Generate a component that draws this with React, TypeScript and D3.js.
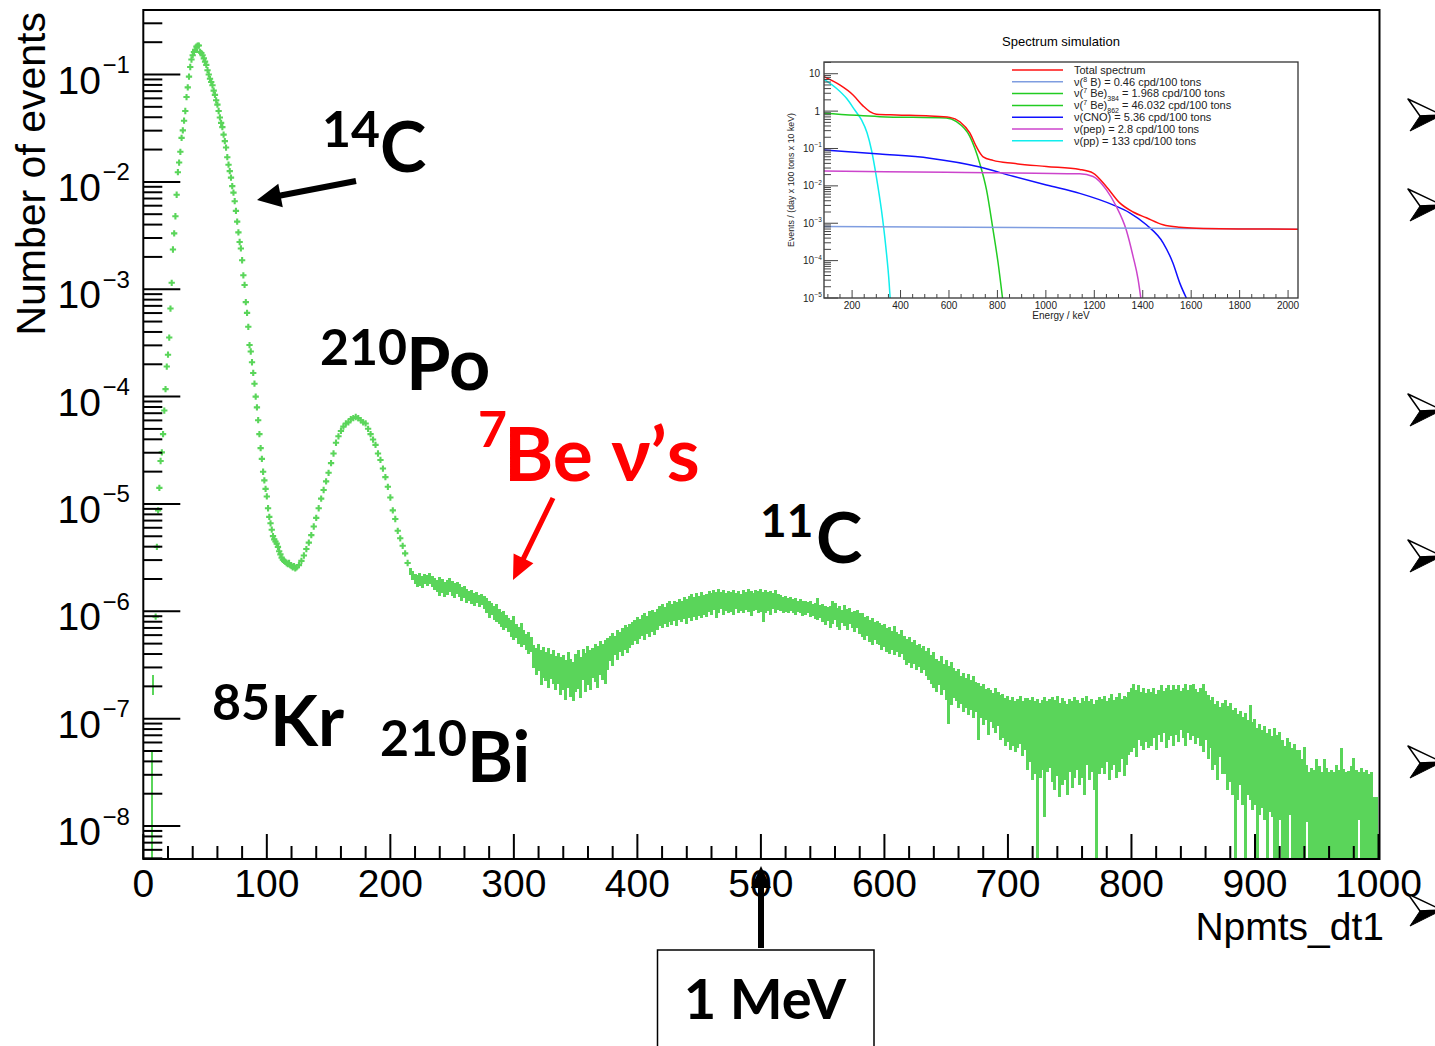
import * as d3 from "d3";

const GREEN = "#5ad55a";
const AXIS_FONT = "'Liberation Sans', Arial, Helvetica, sans-serif";
const SLIDE_FONT = "Lato, Carlito, 'Open Sans', sans-serif";

// ---- main histogram (Npmts_dt1 bins), values stored as log10(events) ----
// 14C peak + rising/falling flanks, one marker per bin starting at bin 10
const c14Start = 10;
const c14Log = [
  -6.05, -5.40, -5.06, -4.85, -4.60, -4.52, -4.35, -4.13, -3.93, -3.72,
  -3.61, -3.45, -3.18, -2.94, -2.63, -2.48, -2.32, -2.12, -1.91, -1.82,
  -1.72, -1.59, -1.52, -1.43, -1.34, -1.21, -1.12, -1.02, -0.93, -0.86,
  -0.82, -0.79, -0.77, -0.74, -0.73, -0.73, -0.79, -0.80, -0.82, -0.85,
  -0.88, -0.91, -0.96, -1.00, -1.04, -1.07, -1.10, -1.15, -1.19, -1.24,
  -1.28, -1.34, -1.40, -1.45, -1.49, -1.56, -1.62, -1.68, -1.77, -1.84,
  -1.90, -1.96, -2.04, -2.10, -2.18, -2.27, -2.37, -2.47, -2.56, -2.62,
  -2.73, -2.87, -2.96, -3.12, -3.22, -3.35, -3.52, -3.58, -3.68, -3.78,
  -3.88, -4.00, -4.10, -4.22, -4.35, -4.48, -4.58, -4.70, -4.78, -4.86,
  -4.93, -5.04, -5.12, -5.18, -5.24, -5.30, -5.33, -5.35, -5.37, -5.40,
  -5.44, -5.47, -5.50, -5.52, -5.53, -5.54, -5.55, -5.56, -5.55, -5.57,
  -5.58, -5.59, -5.58, -5.60, -5.59,
];

// 210Po peak, every second bin from 126
const poStart = 126;
const poStep = 2;
const poLog = [
  -5.57, -5.53, -5.48, -5.42, -5.36, -5.29, -5.21, -5.13, -5.04, -4.95,
  -4.87, -4.79, -4.71, -4.62, -4.53, -4.43, -4.37, -4.32, -4.28, -4.25,
  -4.24, -4.21, -4.20, -4.19, -4.20, -4.22, -4.24, -4.25, -4.30, -4.35,
  -4.40, -4.45, -4.53, -4.59, -4.67, -4.75, -4.84, -4.94, -5.06, -5.14,
  -5.25, -5.32, -5.39, -5.46, -5.55,
];

// threshold bins with only error bars visible
const threshBins = [7, 8];
const threshHiLog = [-7.31, -6.59];
const threshLoLog = [-8.31, -6.78];

// noisy region: error-bar extent per bin, every second bin from 216
const bandStart = 216;
const bandStep = 2;
const bandHiLog = [
  -5.60, -5.62, -5.65, -5.66, -5.64, -5.67, -5.65, -5.66, -5.64, -5.67,
  -5.69, -5.71, -5.68, -5.70, -5.73, -5.71, -5.69, -5.72, -5.74, -5.73,
  -5.75, -5.77, -5.76, -5.79, -5.81, -5.80, -5.83, -5.82, -5.85, -5.84,
  -5.86, -5.88, -5.90, -5.92, -5.95, -5.93, -5.98, -6.01, -6.00, -6.03,
  -6.06, -6.08, -6.04, -6.12, -6.15, -6.11, -6.17, -6.21, -6.19, -6.24,
  -6.31, -6.34, -6.30, -6.36, -6.33, -6.38, -6.34, -6.40, -6.36, -6.42,
  -6.39, -6.43, -6.41, -6.45, -6.38, -6.44, -6.47, -6.40, -6.36, -6.43,
  -6.35, -6.39, -6.32, -6.36, -6.34, -6.30, -6.32, -6.28, -6.30, -6.27,
  -6.25, -6.23, -6.20, -6.23, -6.17, -6.19, -6.16, -6.13, -6.15, -6.12,
  -6.10, -6.08, -6.05, -6.07, -6.03, -6.02, -6.04, -6.00, -5.99, -6.01,
  -5.98, -5.95, -5.93, -5.96, -5.92, -5.90, -5.93, -5.90, -5.91, -5.89,
  -5.90, -5.87, -5.89, -5.86, -5.84, -5.87, -5.83, -5.86, -5.82, -5.85,
  -5.84, -5.81, -5.83, -5.80, -5.82, -5.79, -5.82, -5.80, -5.83, -5.81,
  -5.82, -5.80, -5.83, -5.81, -5.84, -5.80, -5.82, -5.79, -5.81, -5.83,
  -5.80, -5.81, -5.79, -5.82, -5.80, -5.82, -5.81, -5.83, -5.80, -5.84,
  -5.85, -5.87, -5.86, -5.88, -5.87, -5.89, -5.88, -5.90, -5.89, -5.90,
  -5.90, -5.91, -5.90, -5.93, -5.92, -5.88, -5.94, -5.93, -5.95, -5.96,
  -5.95, -5.90, -5.92, -5.97, -5.95, -5.99, -5.94, -5.98, -5.97, -6.01,
  -6.00, -5.99, -6.02, -6.02, -6.05, -6.04, -6.08, -6.06, -6.10, -6.09,
  -6.11, -6.13, -6.12, -6.16, -6.15, -6.18, -6.14, -6.19, -6.21, -6.17,
  -6.23, -6.26, -6.24, -6.29, -6.27, -6.31, -6.30, -6.34, -6.32, -6.37,
  -6.34, -6.41, -6.38, -6.44, -6.46, -6.42, -6.49, -6.45, -6.51, -6.47,
  -6.53, -6.56, -6.54, -6.60, -6.57, -6.62, -6.58, -6.64, -6.60, -6.66,
  -6.67, -6.70, -6.68, -6.72, -6.71, -6.73, -6.76, -6.71, -6.75, -6.78,
  -6.77, -6.81, -6.79, -6.83, -6.80, -6.84, -6.82, -6.79, -6.84, -6.81,
  -6.81, -6.83, -6.80, -6.84, -6.82, -6.85, -6.83, -6.80, -6.84, -6.82,
  -6.80, -6.83, -6.79, -6.85, -6.81, -6.84, -6.86, -6.82, -6.84, -6.80,
  -6.83, -6.85, -6.81, -6.84, -6.79, -6.84, -6.82, -6.86, -6.83, -6.80,
  -6.82, -6.79, -6.84, -6.81, -6.77, -6.83, -6.80, -6.76, -6.82, -6.79,
  -6.80, -6.75, -6.71, -6.68, -6.73, -6.69, -6.75, -6.71, -6.76, -6.72,
  -6.75, -6.71, -6.77, -6.73, -6.69, -6.74, -6.71, -6.69, -6.73, -6.69,
  -6.72, -6.69, -6.74, -6.71, -6.68, -6.73, -6.69, -6.68, -6.72, -6.75,
  -6.71, -6.68, -6.74, -6.78, -6.83, -6.80, -6.86, -6.84, -6.89, -6.85,
  -6.83, -6.88, -6.85, -6.92, -6.90, -6.96, -6.93, -6.98, -6.95, -7.01,
  -6.87, -7.03, -7.00, -7.09, -7.05, -7.11, -7.07, -7.13, -7.10, -7.16,
  -7.09, -7.15, -7.12, -7.20, -7.25, -7.18, -7.22, -7.27, -7.24, -7.29,
  -7.29, -7.38, -7.26, -7.43, -7.50, -7.46, -7.48, -7.38, -7.44, -7.50,
  -7.38, -7.46, -7.50, -7.48, -7.50, -7.43, -7.48, -7.27, -7.47, -7.50,
  -7.49, -7.44, -7.37, -7.48, -7.50, -7.46, -7.50, -7.48, -7.52, -7.50,
  -7.73, -7.73,
];
const bandLoLog = [
  -5.66, -5.71, -5.75, -5.77, -5.76, -5.78, -5.75, -5.76, -5.75, -5.77,
  -5.80, -5.82, -5.86, -5.83, -5.87, -5.85, -5.82, -5.86, -5.88, -5.84,
  -5.87, -5.90, -5.88, -5.92, -5.90, -5.93, -5.95, -5.92, -5.96, -5.94,
  -5.98, -6.02, -6.06, -6.03, -6.08, -6.10, -6.12, -6.15, -6.17, -6.16,
  -6.19, -6.24, -6.27, -6.25, -6.30, -6.33, -6.31, -6.36, -6.40, -6.38,
  -6.53, -6.59, -6.56, -6.69, -6.62, -6.65, -6.71, -6.63, -6.68, -6.73,
  -6.68, -6.78, -6.73, -6.83, -6.71, -6.80, -6.84, -6.75, -6.72, -6.81,
  -6.64, -6.75, -6.69, -6.73, -6.62, -6.66, -6.71, -6.59, -6.64, -6.68,
  -6.55, -6.46, -6.51, -6.41, -6.45, -6.38, -6.42, -6.36, -6.39, -6.34,
  -6.31, -6.28, -6.30, -6.26, -6.23, -6.27, -6.21, -6.24, -6.19, -6.22,
  -6.17, -6.14, -6.16, -6.12, -6.15, -6.10, -6.13, -6.09, -6.14, -6.08,
  -6.10, -6.07, -6.12, -6.06, -6.09, -6.05, -6.08, -6.04, -6.06, -6.03,
  -6.05, -6.01, -6.03, -5.99, -6.06, -6.02, -5.98, -6.03, -6.00, -6.02,
  -6.01, -6.03, -5.98, -6.02, -6.00, -6.02, -5.99, -6.01, -6.04, -6.00,
  -5.99, -6.02, -6.01, -6.10, -6.02, -6.00, -6.03, -5.98, -6.02, -5.99,
  -6.00, -6.02, -6.01, -6.02, -6.00, -6.02, -6.03, -6.01, -6.02, -6.04,
  -6.03, -6.02, -6.05, -6.04, -6.07, -6.08, -6.06, -6.10, -6.13, -6.09,
  -6.16, -6.12, -6.08, -6.15, -6.17, -6.11, -6.14, -6.17, -6.12, -6.16,
  -6.19, -6.16, -6.21, -6.24, -6.27, -6.23, -6.29, -6.31, -6.27, -6.30,
  -6.31, -6.36, -6.33, -6.38, -6.40, -6.36, -6.41, -6.38, -6.43, -6.40,
  -6.45, -6.50, -6.48, -6.53, -6.49, -6.55, -6.52, -6.57, -6.55, -6.60,
  -6.64, -6.68, -6.71, -6.75, -6.69, -6.78, -6.73, -6.83, -7.05, -6.87,
  -6.81, -6.84, -6.90, -6.86, -6.94, -6.90, -6.97, -6.92, -6.99, -6.94,
  -7.20, -6.99, -7.06, -7.01, -7.15, -7.03, -7.09, -7.13, -7.07, -7.20,
  -7.18, -7.25, -7.22, -7.29, -7.25, -7.31, -7.27, -7.24, -7.35, -7.29,
  -7.48, -7.40, -7.57, -7.52, -8.31, -7.55, -7.48, -7.92, -7.50, -7.46,
  -7.59, -7.66, -7.53, -7.73, -7.62, -7.57, -7.71, -7.50, -7.65, -7.55,
  -7.48, -7.62, -7.55, -7.71, -7.43, -7.57, -7.50, -7.66, -8.31, -7.52,
  -7.46, -7.52, -7.40, -7.57, -7.48, -7.43, -7.55, -7.50, -7.38, -7.53,
  -7.43, -7.34, -7.31, -7.27, -7.36, -7.20, -7.25, -7.29, -7.22, -7.27,
  -7.25, -7.18, -7.29, -7.15, -7.22, -7.13, -7.27, -7.20, -7.16, -7.25,
  -7.15, -7.22, -7.11, -7.18, -7.25, -7.13, -7.20, -7.16, -7.24, -7.18,
  -7.25, -7.31, -7.20, -7.38, -7.27, -7.48, -7.43, -7.57, -7.36, -7.52,
  -7.52, -7.66, -7.59, -7.71, -8.31, -7.76, -7.62, -7.80, -8.31, -7.71,
  -7.76, -7.85, -7.80, -8.31, -7.90, -7.83, -7.94, -8.31, -7.87, -7.92,
  -8.31, -8.31, -7.94, -8.31, -8.31, -8.31, -7.90, -8.31, -8.31, -8.31,
  -8.31, -8.31, -8.31, -7.96, -8.31, -8.31, -8.31, -8.31, -8.31, -8.31,
  -8.31, -8.31, -8.31, -8.31, -8.31, -8.31, -8.31, -8.31, -8.31, -8.31,
  -8.31, -8.31, -8.31, -8.31, -7.94, -8.31, -8.31, -8.31, -8.31, -8.31,
  -8.31, -8.31,
];

const xMajorTicks = [0, 100, 200, 300, 400, 500, 600, 700, 800, 900, 1000];
const yDecadeExps = [-1, -2, -3, -4, -5, -6, -7, -8];

// ---- inset: spectrum simulation (energy keV, events/(day x 100 t x 10 keV)) ----
const totalE = [84, 149, 204, 245, 273, 300, 383, 521, 604, 645, 686, 713, 741, 782, 865, 1002, 1140, 1195, 1250, 1305, 1360, 1415, 1484, 1553, 1621, 2040];
const totalV = [8.3, 5.0, 2.7, 1.38, 0.97, 0.83, 0.79, 0.74, 0.68, 0.52, 0.26, 0.112, 0.06, 0.048, 0.04, 0.033, 0.0275, 0.022, 0.0095, 0.0035, 0.002, 0.0014, 9.1e-4, 7.8e-4, 7.4e-4, 6.9e-4];
const b8E = [84, 2040];
const b8V = [8.2e-4, 6.9e-4];
const be862E = [84, 314, 589, 631, 686, 727, 755, 782, 803, 821];
const be862V = [0.87, 0.71, 0.65, 0.52, 0.21, 0.04, 7.8e-3, 6.6e-4, 8.5e-5, 1e-5];
const cnoE = [84, 314, 521, 727, 865, 1002, 1140, 1277, 1346, 1415, 1484, 1525, 1553, 1580];
const cnoV = [0.091, 0.071, 0.055, 0.032, 0.018, 0.0105, 0.0063, 0.0031, 0.0019, 9.1e-4, 3.0e-4, 8.5e-5, 2.5e-5, 1e-5];
const pepE = [84, 589, 1140, 1195, 1250, 1291, 1332, 1360, 1381, 1392];
const pepV = [0.025, 0.023, 0.021, 0.0178, 0.0078, 0.0028, 6.6e-4, 1.3e-4, 3.1e-5, 1e-5];
const ppE = [84, 135, 177, 211, 239, 262, 280, 300, 321, 339, 353, 357];
const ppV = [7.1, 4.1, 2.2, 1.07, 0.58, 0.26, 0.091, 0.0178, 2.3e-3, 2.4e-4, 2.5e-5, 1e-5];

const legendColors = ["#ff1010", "#7f9de0", "#22cc22", "#22cc22", "#1010ff", "#cc44cc", "#10eeee"];
const legendRows = [
  { pre: "Total spectrum" },
  { pre: "ν(", sup: "8", post: " B) = 0.46 cpd/100 tons" },
  { pre: "ν(", sup: "7", mid: " Be)", sub: "384", post: " = 1.968 cpd/100 tons" },
  { pre: "ν(", sup: "7", mid: " Be)", sub: "862", post: " = 46.032 cpd/100 tons" },
  { pre: "ν(CNO) = 5.36 cpd/100 tons" },
  { pre: "ν(pep) = 2.8 cpd/100 tons" },
  { pre: "ν(pp) = 133 cpd/100 tons" },
];
const insetXMajor = [200, 400, 600, 800, 1000, 1200, 1400, 1600, 1800, 2000];
const insetYExps = [1, 0, -1, -2, -3, -4, -5];

const bulletYs = [115, 205, 410, 556, 762, 910];

// ---- scales ----
const x = d3.scaleLinear().domain([0, 1000]).range([143.3, 1378.5]);
const y = d3.scaleLog().domain([4.93e-9, 0.399]).range([859, 10]);
const xi = d3.scaleLinear().domain([84, 2041]).range([824, 1298]);
const yi = d3.scaleLog().domain([1e-5, 20.6]).range([298, 62]);
const p10 = (v: number) => Math.pow(10, v);

function arrowPoints(x1: number, y1: number, x2: number, y2: number, shaft: number, headLen: number, headHalf: number) {
  const dx = x2 - x1, dy = y2 - y1;
  const len = Math.hypot(dx, dy);
  const ux = dx / len, uy = dy / len;
  const nx = -uy, ny = ux;
  const bx = x2 - ux * headLen, by = y2 - uy * headLen;
  const pts = [
    [x1 + nx * shaft, y1 + ny * shaft],
    [bx + nx * shaft, by + ny * shaft],
    [bx + nx * headHalf, by + ny * headHalf],
    [x2, y2],
    [bx - nx * headHalf, by - ny * headHalf],
    [bx - nx * shaft, by - ny * shaft],
    [x1 - nx * shaft, y1 - ny * shaft],
  ];
  return pts.map((p) => p.map((v) => v.toFixed(1)).join(",")).join(" ");
}

function LegendText({ row, x0, y0 }: { row: (typeof legendRows)[number]; x0: number; y0: number }) {
  // superscript / subscript handled with explicit dy on non-empty tspans
  const parts: { t: string; dy: number; small: boolean }[] = [];
  let level = 0;
  const push = (t: string, lvl: number, small: boolean) => {
    parts.push({ t, dy: lvl - level, small });
    level = lvl;
  };
  push(row.pre, 0, false);
  if (row.sup) push(row.sup, -4, true);
  if (row.mid) push(row.mid, 0, false);
  if (row.sub) push(row.sub, 4, true);
  if (row.post) push(row.post, 0, false);
  return (
    <text x={x0} y={y0} fontSize={11} fill="#222">
      {parts.map((p, i) => (
        <tspan key={i} dy={p.dy} fontSize={p.small ? 7 : 11}>{p.t}</tspan>
      ))}
    </text>
  );
}

function Inset() {
  const line = d3
    .line<[number, number]>()
    .x((d) => xi(d[0]))
    .y((d) => yi(d[1]))
    .curve(d3.curveMonotoneX);
  const zip = (e: number[], v: number[]) => e.map((ev, i) => [ev, v[i]] as [number, number]);
  const curves = [
    { d: zip(ppE, ppV), c: legendColors[6] },
    { d: zip(be862E, be862V), c: legendColors[3] },
    { d: zip(cnoE, cnoV), c: legendColors[4] },
    { d: zip(pepE, pepV), c: legendColors[5] },
    { d: zip(b8E, b8V), c: legendColors[1] },
    { d: zip(totalE, totalV), c: legendColors[0] },
  ];

  const [yMin, yMax] = yi.domain();
  const yTicks: { v: number; major: boolean }[] = [];
  for (let e = -5; e <= 1; e++) {
    for (let k = 1; k <= 9; k++) {
      const v = k * Math.pow(10, e);
      if (v >= yMin && v <= yMax) yTicks.push({ v, major: k === 1 });
    }
  }
  const xMinor = d3.range(100, 2041, 50).filter((v) => v % 200 !== 0);

  return (
    <g fontFamily={AXIS_FONT}>
      <text x={1061} y={46} textAnchor="middle" fontSize={13}>Spectrum simulation</text>
      <defs>
        <clipPath id="insetClip">
          <rect x={824} y={62} width={474} height={236} />
        </clipPath>
      </defs>
      <rect x={824} y={62} width={474} height={236} fill="white" />
      <g clipPath="url(#insetClip)" fill="none" strokeWidth={1.5}>
        {curves.map((c, i) => (
          <path key={i} d={line(c.d) ?? ""} stroke={c.c} />
        ))}
      </g>
      <rect x={824} y={62} width={474} height={236} fill="none" stroke="#333" strokeWidth={1.3} />
      <g stroke="#444" strokeWidth={1}>
        {yTicks.map((t, i) => (
          <line key={i} x1={824} x2={824 + (t.major ? 14 : 7)} y1={yi(t.v)} y2={yi(t.v)} />
        ))}
        {insetXMajor.map((v) => (
          <line key={v} x1={xi(v)} x2={xi(v)} y1={298} y2={290} />
        ))}
        {xMinor.map((v) => (
          <line key={v} x1={xi(v)} x2={xi(v)} y1={298} y2={294} />
        ))}
      </g>
      {insetXMajor.map((v) => (
        <text key={v} x={xi(v)} y={308.5} textAnchor="middle" fontSize={10} fill="#222">{v}</text>
      ))}
      {insetYExps.map((e) => {
        const yy = yi(Math.pow(10, e));
        if (e >= 0)
          return (
            <text key={e} x={820} y={yy + 3.5} textAnchor="end" fontSize={10} fill="#222">
              {e === 1 ? "10" : "1"}
            </text>
          );
        return (
          <g key={e} fill="#222">
            <text x={814} y={yy + 3.5} textAnchor="end" fontSize={10}>10</text>
            <text x={814.5} y={yy - 1} fontSize={6.5}>{"−" + -e}</text>
          </g>
        );
      })}
      <text x={1061} y={318.5} textAnchor="middle" fontSize={10} fill="#222">Energy / keV</text>
      <text transform="translate(794,180) rotate(-90)" textAnchor="middle" fontSize={8.8} fill="#222">
        Events / (day x 100 tons x 10 keV)
      </text>
      {legendRows.map((r, i) => {
        const ly = 70 + i * 11.8;
        return (
          <g key={i}>
            <line x1={1012} x2={1063} y1={ly} y2={ly} stroke={legendColors[i]} strokeWidth={1.5} />
            <LegendText row={r} x0={1074} y0={ly + 3.8} />
          </g>
        );
      })}
    </g>
  );
}

export default function App() {
  const [yLo, yHi] = y.domain();
  const yTicks: { v: number; major: boolean }[] = [];
  for (let e = -9; e <= -1; e++) {
    for (let k = 1; k <= 9; k++) {
      const v = k * Math.pow(10, e);
      if (v >= yLo && v <= yHi) yTicks.push({ v, major: k === 1 });
    }
  }
  const xMinorTicks = d3.range(0, 1001, 20).filter((v) => v % 100 !== 0);
  const cross = d3.symbol().type(d3.symbolCross).size(22)() ?? "";

  const yBottom = y.range()[0];
  const clampY = (v: number) => Math.min(yBottom + 2, y(p10(v)));

  return (
    <div style={{ position: "absolute", left: 0, top: 0 }}>
      <svg width={1435} height={1046} style={{ display: "block", background: "white" }}>
        <defs>
          <clipPath id="plotClip">
            <rect x={143.3} y={10} width={1236.2} height={849} />
          </clipPath>
        </defs>

        {/* histogram */}
        <g clipPath="url(#plotClip)" fill={GREEN}>
          <g shapeRendering="crispEdges">
            {bandHiLog.map((hi, i) => {
              const bin = bandStart + i * bandStep;
              const top = y(p10(hi));
              const bot = clampY(bandLoLog[i]);
              return <rect key={"b" + i} x={x(bin) - 1.5} width={3} y={top} height={Math.max(4, bot - top)} />;
            })}
            {threshBins.map((bin, i) => {
              const top = y(p10(threshHiLog[i]));
              const bot = clampY(threshLoLog[i]);
              return <rect key={"t" + i} x={x(bin) - 1.3} width={2.6} y={top} height={bot - top} />;
            })}
          </g>
          {c14Log.map((v, i) => (
            <path key={"c" + i} d={cross} transform={`translate(${x(c14Start + i)},${y(p10(v))})`} />
          ))}
          {poLog.map((v, i) => (
            <path key={"p" + i} d={cross} transform={`translate(${x(poStart + i * poStep)},${y(p10(v))})`} />
          ))}
        </g>

        {/* frame + ticks */}
        <rect x={143.3} y={10} width={1236.2} height={849} fill="none" stroke="black" strokeWidth={2} />
        <g stroke="black" strokeWidth={2}>
          {yTicks.map((t, i) => (
            <line key={i} x1={143.3} x2={143.3 + (t.major ? 37 : 19)} y1={y(t.v)} y2={y(t.v)} />
          ))}
          {xMajorTicks.map((v) => (
            <line key={v} x1={x(v)} x2={x(v)} y1={859} y2={834} />
          ))}
          {xMinorTicks.map((v) => (
            <line key={v} x1={x(v)} x2={x(v)} y1={859} y2={846} />
          ))}
        </g>

        {/* axis labels */}
        <g fontFamily={AXIS_FONT} fill="black">
          {xMajorTicks.map((v) => (
            <text key={v} x={x(v)} y={897} textAnchor="middle" fontSize={39}>{v}</text>
          ))}
          {yDecadeExps.map((e) => {
            const yy = y(p10(e));
            return (
              <g key={e}>
                <text x={101} y={yy + 19} textAnchor="end" fontSize={39}>10</text>
                <text x={102.5} y={yy - 1.5} fontSize={24}>{"−" + -e}</text>
              </g>
            );
          })}
          <text x={1384} y={940} textAnchor="end" fontSize={39}>Npmts_dt1</text>
          <text transform="translate(44.5,12) rotate(-90)" textAnchor="end" fontSize={41}>Number of events</text>
        </g>

        <Inset />

        {/* annotations */}
        <g fontFamily={SLIDE_FONT} fontWeight="bold" fill="black">
          <text x={322} y={147} fontSize={50}>14</text>
          <text x={380} y={172} fontSize={70}>C</text>
          <text x={320} y={365} fontSize={50}>210</text>
          <text x={406} y={390} fontSize={72}>Po</text>
          <text x={760} y={537} fontSize={46}>11</text>
          <text x={816} y={563} fontSize={70}>C</text>
          <text x={212} y={720} fontSize={50}>85</text>
          <text x={270} y={746} fontSize={70}>Kr</text>
          <text x={380} y={756} fontSize={50}>210</text>
          <text x={467} y={782} fontSize={70}>Bi</text>
          <g fill="#ff0000">
            <text x={478} y={447} fontSize={50}>7</text>
            <text x={504} y={481} fontSize={75}>Be ν’s</text>
          </g>
        </g>
        <polygon points={arrowPoints(356, 181, 257, 200, 3, 24, 12)} fill="black" />
        <polygon points={arrowPoints(553, 498, 513, 580, 2.6, 24, 11)} fill="#ff0000" />
        <polygon points={arrowPoints(761, 948, 761, 866, 3, 22, 10)} fill="black" />

        {/* 1 MeV box */}
        <rect x={657.5} y={950} width={216.5} height={110} fill="white" stroke="black" strokeWidth={1.5} />
        <text x={765} y={1019} textAnchor="middle" fontFamily={SLIDE_FONT} fontWeight="bold" fontSize={56}>1 MeV</text>

        {/* slide bullets on the right edge */}
        {bulletYs.map((by) => (
          <g key={by}>
            <polygon points={`1408,${by - 16} 1442,${by} 1420,${by + 1}`} fill="white" stroke="black" strokeWidth={1.5} strokeLinejoin="round" />
            <polygon points={`1420,${by + 1} 1442,${by} 1410,${by + 16}`} fill="black" stroke="black" strokeWidth={1} />
          </g>
        ))}
      </svg>
    </div>
  );
}
